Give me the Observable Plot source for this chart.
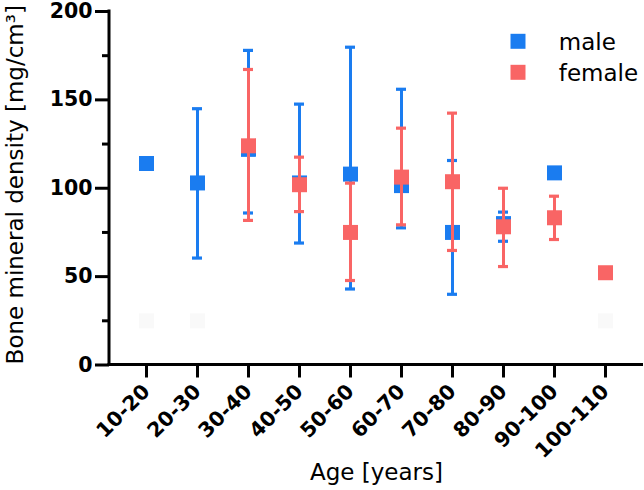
<!DOCTYPE html>
<html>
<head>
<meta charset="utf-8">
<script src="https://cdn.jsdelivr.net/npm/d3@7"></script>
<script src="https://cdn.jsdelivr.net/npm/@observablehq/plot@0.6"></script>
<style>
  html, body { margin: 0; padding: 0; background: #fff; }
  #chart svg { display: block; }
</style>
</head>
<body>
<div id="chart"></div>
<script>
// ---- data ----
const categories = ["10-20","20-30","30-40","40-50","50-60","60-70","70-80","80-90","90-100","100-110"];

const maleMean = [114, 103, 122, 103, 108, 101.5, 75, 80, 108.7, null];
const maleLow  = [null, 60.5, 86, 69, 43, 77.6, 40, 70, null, null];
const maleHigh = [null, 145, 178, 147.6, 179.8, 156, 115.7, 86.5, null, null];

const femaleMean = [null, null, 124, 102, 75, 106.3, 103.7, 78.2, 83.3, 52.2];
const femaleLow  = [null, null, 81.8, 86.8, 47.8, 79.3, 64.8, 55.7, 71, null];
const femaleHigh = [null, null, 167.2, 117.6, 102.9, 134, 142.5, 100, 95.5, null];

// very faint squares visible near the bottom of the reference
const faintCategories = ["10-20", "20-30", "100-110"];
const faintValues = [25, 25, 25];

const majorTicks = [0, 50, 100, 150, 200];
const minorTicks = [25, 75, 125, 175];

const seriesNames = ["male", "female"];
const seriesColors = ["#1a7cf0", "#f96565"];

const xTitle = "Age [years]";
const yTitle = "Bone mineral density [mg/cm³]";

// ---- tables built from the arrays ----
function rows(mean, low, high) {
  return categories.map((c, i) => ({age: c, mean: mean[i], low: low[i], high: high[i]}));
}
const male = rows(maleMean, maleLow, maleHigh);
const female = rows(femaleMean, femaleLow, femaleHigh);
const faint = faintCategories.map((c, i) => ({age: c, v: faintValues[i]}));

const hasBar = d => d.low != null && d.high != null;
const hasMean = d => d.mean != null;

const SQ_R = 15 / Math.sqrt(Math.PI); // square side ~15px

function seriesMarks(data, color) {
  return [
    Plot.ruleX(data.filter(hasBar), {x: "age", y1: "low", y2: "high", stroke: color, strokeWidth: 3}),
    Plot.tickY(data.filter(hasBar), {x: "age", y: "high", stroke: color, strokeWidth: 3.2}),
    Plot.tickY(data.filter(hasBar), {x: "age", y: "low", stroke: color, strokeWidth: 3.2}),
    Plot.dot(data.filter(hasMean), {x: "age", y: "mean", symbol: "square", r: SQ_R, fill: color, stroke: "none"})
  ];
}

// axis lines drawn from the plot's own dimensions
function axisLines(index, scales, values, dimensions) {
  const {width, height, marginLeft, marginRight, marginTop, marginBottom} = dimensions;
  const g = d3.create("svg:g").attr("stroke", "#000").attr("stroke-width", 3).attr("fill", "none");
  const yb = height - marginBottom;
  g.append("line").attr("x1", marginLeft).attr("x2", marginLeft).attr("y1", marginTop - 1.5).attr("y2", yb + 1.5);
  g.append("line").attr("x1", marginLeft - 1.5).attr("x2", width - marginRight).attr("y1", yb).attr("y2", yb);
  return g.node();
}

const legend = seriesNames.flatMap((name, i) => [
  Plot.dot([name], {frameAnchor: "top-right", dx: -125.5, dy: 29.8 + i * 31, symbol: "square", r: SQ_R, fill: seriesColors[i]}),
  Plot.text([name], {frameAnchor: "top-right", dx: -84.7, dy: 31 + i * 31.4, text: d => d, textAnchor: "start", lineAnchor: "middle", fontSize: 23, fill: "#000"})
]);

const chart = Plot.plot({
  width: 644,
  height: 490,
  marginLeft: 109,
  marginRight: 1,
  marginTop: 11,
  marginBottom: 125.5,
  style: {fontFamily: "DejaVu Sans", color: "#000", background: "#fff"},
  x: {type: "band", domain: categories, paddingInner: 0.8, paddingOuter: 0.585, align: 0.5},
  y: {domain: [0, 200]},
  marks: [
    Plot.dot(faint, {x: "age", y: "v", symbol: "square", r: SQ_R, fill: "#f9f9f9"}),
    ...seriesMarks(male, seriesColors[0]),
    ...seriesMarks(female, seriesColors[1]),
    axisLines,
    Plot.axisY(majorTicks, {tickSize: 14, tickPadding: 3, fontSize: 20.5, fontWeight: "bold", strokeWidth: 3, label: null, tickFormat: d => String(d)}),
    Plot.axisY(minorTicks, {tickSize: 7, strokeWidth: 3, label: null, tickFormat: () => ""}),
    Plot.axisX({tickSize: 13, tickPadding: 10, tickRotate: -45, fontSize: 20.5, fontWeight: "bold", strokeWidth: 3, label: null}),
    Plot.text([yTitle], {frameAnchor: "left", dx: -93.4, dy: -3.5, rotate: -90, text: d => d, fontSize: 23, lineAnchor: "middle", textAnchor: "middle", fill: "#000"}),
    Plot.text([xTitle], {frameAnchor: "bottom", dy: 107.5, text: d => d, fontSize: 23, lineAnchor: "middle", textAnchor: "middle", fill: "#000"}),
    ...legend
  ]
});
document.getElementById("chart").append(chart);
</script>
</body>
</html>
